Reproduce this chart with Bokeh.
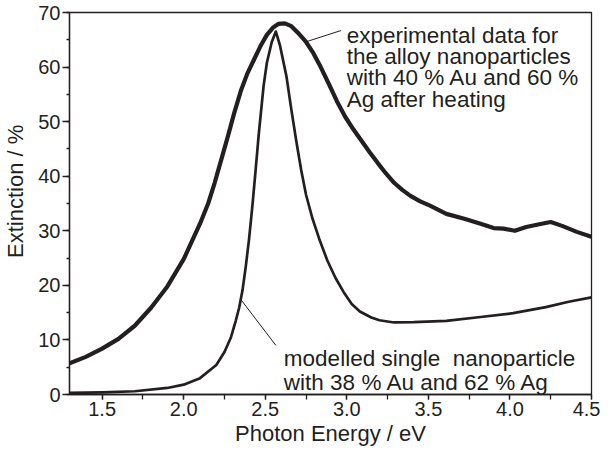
from bokeh.plotting import figure
from bokeh.models import Range1d, SingleIntervalTicker, NumeralTickFormatter
from bokeh.core.properties import value
from bokeh.embed import file_html
from bokeh.resources import INLINE

# ---- data ----
exp_energy = [1.30, 1.40, 1.50, 1.60, 1.70, 1.80, 1.90, 2.00, 2.10, 2.15, 2.19, 2.23,
              2.27, 2.31, 2.35, 2.39, 2.43, 2.47, 2.51, 2.55, 2.58, 2.62, 2.66, 2.70,
              2.75, 2.79, 2.84, 2.89, 2.94, 2.99, 3.04, 3.09, 3.14, 3.19, 3.24, 3.29,
              3.34, 3.39, 3.45, 3.51, 3.61, 3.72, 3.82, 3.90, 3.96, 4.03, 4.10, 4.18,
              4.25, 4.32, 4.41, 4.50]
exp_ext = [5.7, 6.9, 8.4, 10.2, 12.6, 15.9, 19.8, 24.8, 31.3, 35.0, 38.8, 43.0,
           47.2, 51.6, 55.6, 58.8, 61.3, 63.8, 65.9, 67.3, 67.9, 68.0, 67.5, 66.3,
           64.6, 62.8, 60.0, 56.9, 53.7, 50.9, 48.6, 46.5, 44.4, 42.4, 40.5, 38.8,
           37.5, 36.4, 35.4, 34.6, 33.1, 32.2, 31.3, 30.5, 30.4, 30.0, 30.7, 31.2,
           31.6, 30.9, 29.8, 28.9]

mod_energy = [1.30, 1.50, 1.70, 1.90, 2.00, 2.10, 2.20, 2.25, 2.29, 2.32, 2.34, 2.36,
              2.38, 2.40, 2.42, 2.44, 2.46, 2.49, 2.51, 2.54, 2.565, 2.59, 2.63, 2.66,
              2.69, 2.72, 2.75, 2.79, 2.83, 2.88, 2.93, 2.98, 3.03, 3.08, 3.15, 3.20,
              3.29, 3.41, 3.61, 3.82, 4.02, 4.22, 4.36, 4.50]
mod_ext = [0.3, 0.4, 0.6, 1.2, 1.8, 3.0, 5.4, 7.8, 10.5, 13.6, 15.9, 19.0,
           23.3, 28.3, 34.2, 40.8, 47.6, 56.6, 60.8, 64.6, 66.5, 64.0, 58.3, 52.2,
           46.5, 41.2, 36.6, 32.2, 28.6, 24.6, 21.4, 18.8, 16.6, 15.2, 14.1, 13.6,
           13.2, 13.25, 13.5, 14.2, 14.9, 16.0, 17.0, 17.8]

x_ticks_interval = 0.5
y_ticks_interval = 10

exp_label = ["experimental data for", "the alloy nanoparticles",
             "with 40 % Au and 60 %", "Ag after heating"]
mod_label = ["modelled single\u00a0 nanoparticle", "with 38 % Au and 62 % Ag"]

INK = "#231f20"
FONT = "Liberation Sans"

p = figure(width=600, height=450,
           output_backend="svg", toolbar_location=None,
           x_range=Range1d(1.3, 4.5), y_range=Range1d(0, 70),
           min_border_left=63, min_border_right=9, min_border_top=12,
           min_border_bottom=56)
p.xgrid.visible = False
p.ygrid.visible = False
p.background_fill_color = "white"
p.border_fill_color = "white"
p.outline_line_color = INK
p.outline_line_width = 1.3
p.outline_line_alpha = 1.0

# curves
p.line(exp_energy, exp_ext, line_color=INK, line_width=4.2, line_join="round")
p.line(mod_energy, mod_ext, line_color=INK, line_width=2.7, line_join="round")

# leader lines
p.line([2.757, 2.965], [64.7, 66.7], line_color=INK, line_width=1.0)
p.line([2.353, 2.565], [17.3, 9.0], line_color=INK, line_width=1.0)

# annotation text
exp_y = [65.8, 61.9, 58.0, 54.1]
p.text(x=[3.0] * 4, y=exp_y, text=exp_label, text_font=value(FONT),
       text_font_size="22.5px", text_color=INK, text_baseline="alphabetic",
       text_align="left")
mod_y = [6.62, 2.24]
p.text(x=[2.614] * 2, y=mod_y, text=mod_label, text_font=value(FONT),
       text_font_size="22.5px", text_color=INK, text_baseline="alphabetic",
       text_align="left")

# axes
xa = p.xaxis[0]
xa.ticker = SingleIntervalTicker(interval=x_ticks_interval, num_minor_ticks=2)
xa.formatter = NumeralTickFormatter(format="0.0")
xa.axis_label = "Photon Energy / eV"
xa.major_tick_in = 0
xa.major_tick_out = 5
xa.minor_tick_in = 0
xa.minor_tick_out = 5
xa.major_label_standoff = 2
xa.axis_label_standoff = 2

ya = p.yaxis[0]
ya.ticker = SingleIntervalTicker(interval=y_ticks_interval, num_minor_ticks=2)
ya.formatter = NumeralTickFormatter(format="0")
ya.axis_label = "\u00a0\u00a0\u00a0\u00a0Extinction / %"
ya.major_tick_in = 0
ya.major_tick_out = 7
ya.minor_tick_in = 0
ya.minor_tick_out = 3
ya.major_label_standoff = 2
ya.axis_label_standoff = 7

for ax in (xa, ya):
    ax.axis_line_color = INK
    ax.axis_line_width = 1.3
    ax.major_tick_line_color = INK
    ax.minor_tick_line_color = INK
    ax.major_tick_line_width = 1.3
    ax.minor_tick_line_width = 1.3
    ax.major_label_text_font = FONT
    ax.major_label_text_font_size = "20px"
    ax.major_label_text_color = INK
    ax.axis_label_text_font = FONT
    ax.axis_label_text_font_size = "22px"
    ax.axis_label_text_font_style = "normal"
    ax.axis_label_text_color = INK

open("out.html", "w").write(file_html(p, INLINE))
